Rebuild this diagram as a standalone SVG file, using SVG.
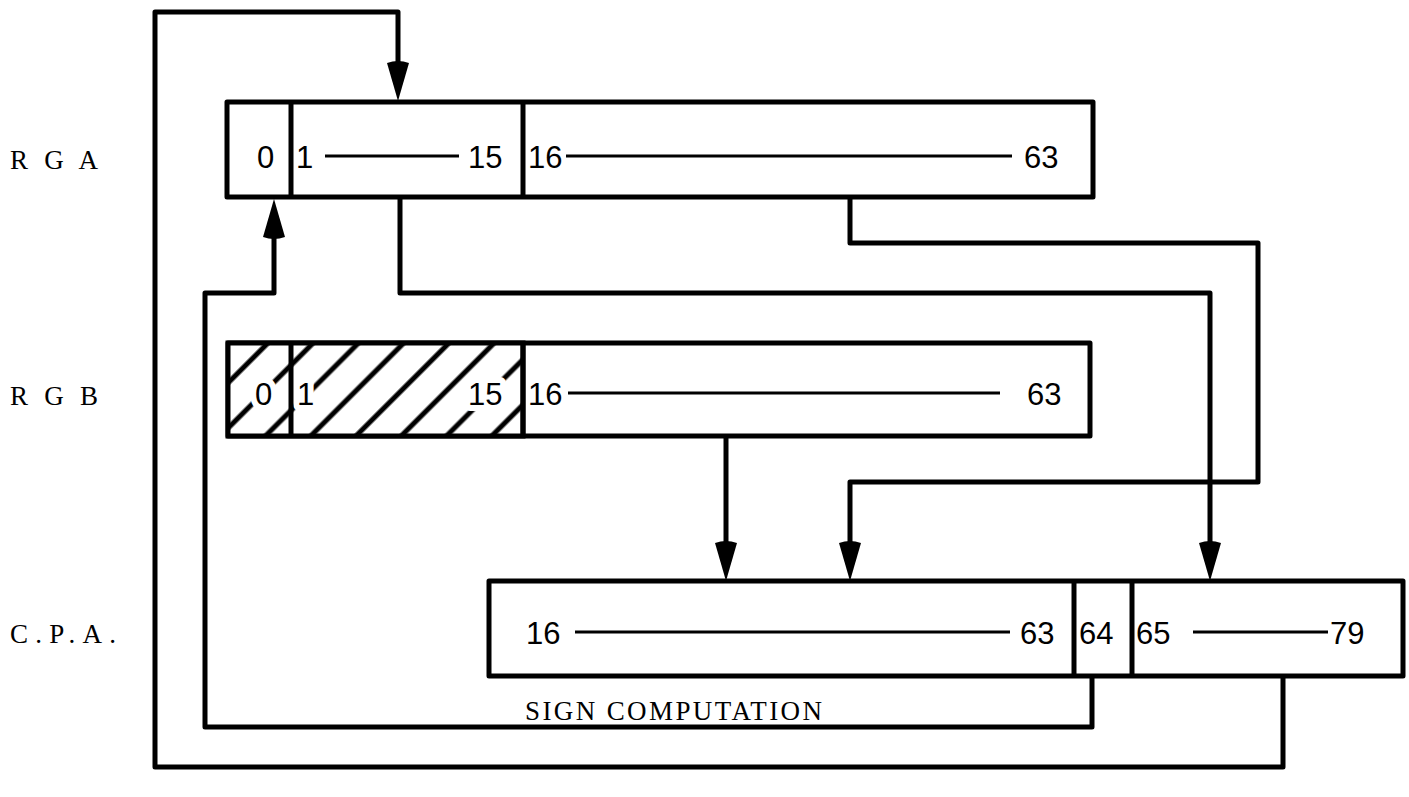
<svg xmlns="http://www.w3.org/2000/svg" width="1409" height="797" viewBox="0 0 1409 797">
  <defs>
    <style>
      .box { fill: #fff; stroke: #000; stroke-width: 5; stroke-linejoin: round; }
      .div { stroke: #000; stroke-width: 5; }
      .wire { fill: none; stroke: #000; stroke-width: 5; stroke-linejoin: round; }
      .rule { stroke: #000; stroke-width: 3; }
      .num { font-family: "Liberation Sans", "DejaVu Sans", sans-serif; font-size: 31px; fill: #000; }
      .tag { font-family: "Liberation Serif", "DejaVu Serif", serif; font-size: 27px; fill: #000; }
      .knock { paint-order: stroke; stroke: #fff; stroke-width: 12px; stroke-linejoin: round; }
      .head { fill: #000; }
    </style>
    <pattern id="hatch" patternUnits="userSpaceOnUse" width="32" height="32" patternTransform="rotate(-45 0 0)">
      <rect width="32" height="32" fill="#fff"/>
      <line x1="0" y1="16" x2="32" y2="16" stroke="#000" stroke-width="5"/>
    </pattern>
    <!-- filled arrowhead, tip at origin, pointing down -->
    <path id="ah" d="M0 0 L-11 -38 Q0 -42 11 -38 Z"/>
  </defs>

  <!-- row labels -->
  <g id="labels">
    <text class="tag" x="10" y="169" textLength="88" lengthAdjust="spacing">R G A</text>
    <text class="tag" x="10" y="405" textLength="88" lengthAdjust="spacing">R G B</text>
    <text class="tag" x="10" y="643" textLength="106" lengthAdjust="spacing">C.P.A.</text>
  </g>

  <!-- connectors -->
  <g id="connectors">
    <!-- 65-79 feedback to RGA bit 1 -->
    <polyline class="wire" points="1283,676 1283,767 155,767 155,12 398,12 398,70"/>
    <use href="#ah" x="398" y="101" class="head"/>
    <!-- sign computation: 64 back to RGA bit 0 -->
    <polyline class="wire" points="1092,676 1092,727 205,727 205,293 274,293 274,230"/>
    <use href="#ah" transform="translate(274 199) rotate(180)" class="head"/>
    <!-- RGA 1-15 to CPA 65-79 -->
    <polyline class="wire" points="400,197 400,293 1210,293 1210,550"/>
    <use href="#ah" x="1210" y="581" class="head"/>
    <!-- RGA 16-63 to CPA 16-63 -->
    <polyline class="wire" points="850,197 850,243 1258,243 1258,482 850,482 850,550"/>
    <use href="#ah" x="850" y="581" class="head"/>
    <!-- RGB 16-63 to CPA 16-63 -->
    <polyline class="wire" points="726,437 726,550"/>
    <use href="#ah" x="726" y="581" class="head"/>
  </g>

  <!-- register A -->
  <g id="rga">
    <rect class="box" x="227" y="102" width="866" height="95"/>
    <line class="div" x1="291" y1="102" x2="291" y2="197"/>
    <line class="div" x1="523" y1="102" x2="523" y2="197"/>
    <text class="num" x="257" y="168">0</text>
    <text class="num" x="296" y="168">1</text>
    <line class="rule" x1="325" y1="156" x2="459" y2="156"/>
    <text class="num" x="468" y="168">15</text>
    <text class="num" x="528" y="168">16</text>
    <line class="rule" x1="566" y1="156" x2="1012" y2="156"/>
    <text class="num" x="1024" y="168">63</text>
  </g>

  <!-- register B, bits 0-15 hatched -->
  <g id="rgb">
    <rect class="box" x="228" y="343" width="862" height="93"/>
    <rect x="228" y="343" width="295" height="93" fill="url(#hatch)"/>
    <text class="num knock" x="255" y="405">0</text>
    <text class="num knock" x="297" y="405">1</text>
    <text class="num knock" x="468" y="405">15</text>
    <rect x="228" y="343" width="295" height="93" fill="none" stroke="#000" stroke-width="5"/>
    <line class="div" x1="291" y1="343" x2="291" y2="436"/>
    <line class="div" x1="523" y1="343" x2="523" y2="436"/>
    <text class="num" x="528" y="405">16</text>
    <line class="rule" x1="568" y1="393" x2="1000" y2="393"/>
    <text class="num" x="1027" y="405">63</text>
  </g>

  <!-- C.P.A. -->
  <g id="cpa">
    <rect class="box" x="489" y="581" width="914" height="95"/>
    <line class="div" x1="1074" y1="581" x2="1074" y2="676"/>
    <line class="div" x1="1132" y1="581" x2="1132" y2="676"/>
    <text class="num" x="526" y="644">16</text>
    <line class="rule" x1="575" y1="632" x2="1010" y2="632"/>
    <text class="num" x="1020" y="644">63</text>
    <text class="num" x="1079" y="644">64</text>
    <text class="num" x="1136" y="644">65</text>
    <line class="rule" x1="1193" y1="632" x2="1328" y2="632"/>
    <text class="num" x="1330" y="644">79</text>
  </g>

  <text class="tag" x="525" y="720" textLength="297" lengthAdjust="spacing">SIGN  COMPUTATION</text>
</svg>
